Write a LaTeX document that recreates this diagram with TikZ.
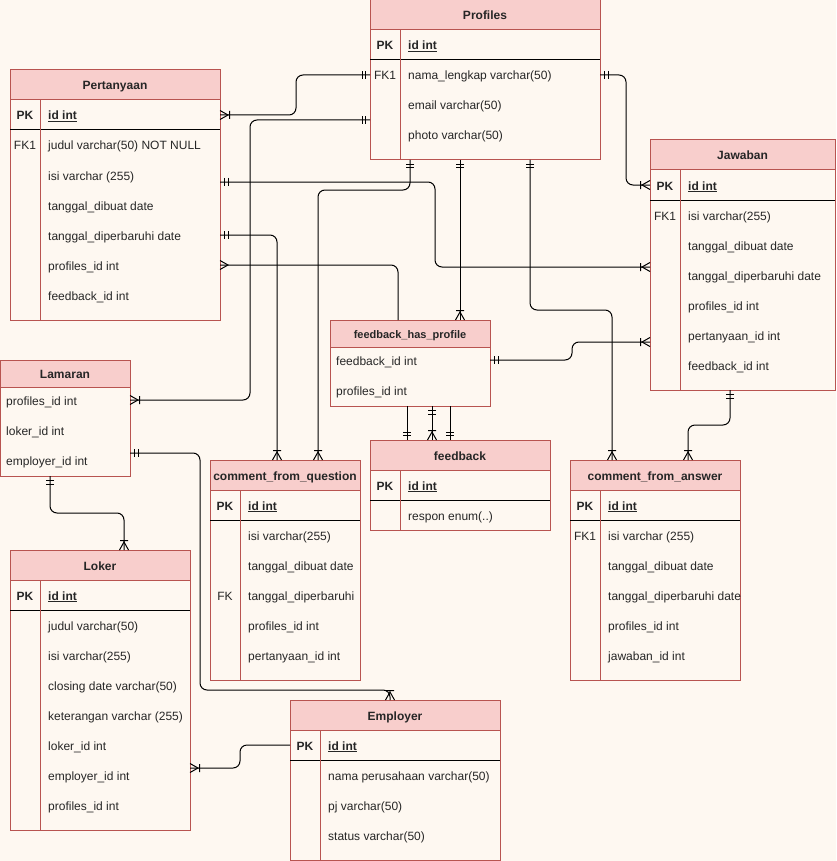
\documentclass[tikz,border=0pt]{standalone}
\usepackage{fontspec}
\setmainfont{Liberation Sans}
\usetikzlibrary{calc}

\definecolor{bgc}{HTML}{FEF8F1}
\definecolor{erhead}{HTML}{F8CECC}
\definecolor{erline}{HTML}{B85450}
\definecolor{ertext}{HTML}{262626}

\tikzset{
  tbl/.style={draw=erline, fill=bgc, line width=1pt, anchor=north west, inner sep=0pt, outer sep=0pt},
  hdr/.style={draw=erline, fill=erhead, line width=1pt, anchor=north west, inner sep=0pt, outer sep=0pt,
    text height=13pt, text depth=3pt, font=\fontsize{12}{14}\selectfont\bfseries, text=ertext},
  fldcell/.style={anchor=west, inner sep=0pt, text height=13pt, text depth=3pt,
    font=\fontsize{12}{14}\selectfont, text=ertext},
  pkfld/.style={fldcell, font=\fontsize{12}{14}\selectfont\bfseries},
  keycell/.style={fldcell, anchor=center},
  pkcell/.style={pkfld, anchor=center},
  divln/.style={draw=erline, line width=1pt},
  sepln/.style={draw=black, line width=1pt},
  conn/.style={draw=black, line width=1pt, rounded corners=7pt},
  tipln/.style={draw=black, line width=1pt},
  % relationship ends: origin on the entity border, +x pointing along the connector
  ertone/.pic={\draw[tipln] (4.5,-4) -- (4.5,4) (8,-4) -- (8,4);},
  ermany/.pic={\draw[tipln] (0,-4.5) -- (8,0) -- (0,4.5);},
  eronemany/.pic={\draw[tipln] (0,-4.5) -- (8,0) -- (0,4.5) (9.5,-4) -- (9.5,4);},
}

% table frame with title bar
\newcommand\ertbl[7]{%
  \node[tbl, minimum width=#4pt, minimum height=#5pt] (#1) at (#2,#3) {};
  \node[hdr, minimum width=#4pt, minimum height=#6pt] (#1-h) at (#2,#3) {#7};}
% line under the primary key row
\newcommand\ersep[2]{\draw[sepln] ($(#1.north west)+(0,#2)$) -- ($(#1.north east)+(0,#2)$);}
% key column divider
\newcommand\erdiv[2]{\draw[divln] ($(#1-h.south west)+(#2,0)$) -- ($(#1.south west)+(#2,0)$);}

\begin{document}
\begin{tikzpicture}[x=1pt, y=-1pt]
\fill[bgc] (0,0) rectangle (836,861);
\useasboundingbox (0,0) rectangle (836,861);

% ---------- Profiles ----------
\ertbl{profiles}{370}{0}{230}{160}{30}{Profiles}
\ersep{profiles}{60}
\erdiv{profiles}{30}
\node[pkcell] at (385,45) {PK};
\node[pkfld] (pr-id) at (408,45) {\underline{id int}};
\node[keycell] at (385,75) {FK1};
\node[fldcell] (pr-nama) at (408,75) {nama\_lengkap varchar(50)};
\node[fldcell] (pr-email) at (408,105) {email varchar(50)};
\node[fldcell] (pr-photo) at (408,135) {photo varchar(50)};

% ---------- Pertanyaan ----------
\ertbl{pertanyaan}{10}{70}{210}{250}{30}{Pertanyaan}
\ersep{pertanyaan}{60}
\erdiv{pertanyaan}{30}
\node[pkcell] (pe-pk) at (25,115) {PK};
\node[pkfld] at (48,115) {\underline{id int}};
\node[keycell] at (25,145) {FK1};
\node[fldcell] at (48,145) {judul varchar(50) NOT NULL};
\node[fldcell] (pe-isi) at (48,175) {isi varchar (255)};
\node[fldcell] at (48,205) {tanggal\_dibuat date};
\node[fldcell] (pe-tdp) at (48,235) {tanggal\_diperbaruhi date};
\node[fldcell] (pe-prof) at (48,265) {profiles\_id int};
\node[fldcell] at (48,295) {feedback\_id int};

% ---------- Jawaban ----------
\ertbl{jawaban}{650}{140}{185}{250}{30}{Jawaban}
\ersep{jawaban}{60}
\erdiv{jawaban}{30}
\node[pkcell] (ja-pk) at (665,185) {PK};
\node[pkfld] at (688,185) {\underline{id int}};
\node[keycell] at (665,215) {FK1};
\node[fldcell] at (688,215) {isi varchar(255)};
\node[fldcell] at (688,245) {tanggal\_dibuat date};
\node[fldcell] at (688,275) {tanggal\_diperbaruhi date};
\node[fldcell] at (688,305) {profiles\_id int};
\node[fldcell] at (688,335) {pertanyaan\_id int};
\node[fldcell] at (688,365) {feedback\_id int};

% ---------- Lamaran ----------
\ertbl{lamaran}{0}{360}{130}{116}{27}{Lamaran}
\node[fldcell] (la-prof) at (6,400) {profiles\_id int};
\node[fldcell] at (6,430) {loker\_id int};
\node[fldcell] (la-emp) at (6,460) {employer\_id int};

% ---------- feedback_has_profile ----------
\node[tbl, minimum width=160pt, minimum height=86pt] (fhp) at (330,320) {};
\node[hdr, minimum width=160pt, minimum height=27pt, text height=12pt, font=\fontsize{11}{13}\selectfont\bfseries] (fhp-h) at (330,320) {feedback\_has\_profile};
\node[fldcell] (fh-fb) at (336,360) {feedback\_id int};
\node[fldcell] (fh-prof) at (336,390) {profiles\_id int};

% ---------- feedback ----------
\ertbl{feedback}{370}{440}{180}{90}{30}{feedback}
\ersep{feedback}{60}
\erdiv{feedback}{30}
\node[pkcell] at (385,485) {PK};
\node[pkfld] at (408,485) {\underline{id int}};
\node[fldcell] at (408,515) {respon enum(..)};

% ---------- comment_from_question ----------
\ertbl{cfq}{210}{460}{150}{220}{30}{comment\_from\_question}
\ersep{cfq}{60}
\erdiv{cfq}{30}
\node[pkcell] at (225,505) {PK};
\node[pkfld] at (248,505) {\underline{id int}};
\node[fldcell] at (248,535) {isi varchar(255)};
\node[fldcell] at (248,565) {tanggal\_dibuat date};
\node[keycell] at (225,595) {FK};
\node[fldcell] at (248,595) {tanggal\_diperbaruhi};
\node[fldcell] at (248,625) {profiles\_id int};
\node[fldcell] at (248,655) {pertanyaan\_id int};

% ---------- comment_from_answer ----------
\ertbl{cfa}{570}{460}{170}{220}{30}{comment\_from\_answer}
\ersep{cfa}{60}
\erdiv{cfa}{30}
\node[pkcell] at (585,505) {PK};
\node[pkfld] at (608,505) {\underline{id int}};
\node[keycell] at (585,535) {FK1};
\node[fldcell] at (608,535) {isi varchar (255)};
\node[fldcell] at (608,565) {tanggal\_dibuat date};
\node[fldcell] at (608,595) {tanggal\_diperbaruhi date};
\node[fldcell] at (608,625) {profiles\_id int};
\node[fldcell] at (608,655) {jawaban\_id int};

% ---------- Loker ----------
\ertbl{loker}{10}{550}{180}{280}{30}{Loker}
\ersep{loker}{60}
\erdiv{loker}{30}
\node[pkcell] at (25,595) {PK};
\node[pkfld] at (48,595) {\underline{id int}};
\node[fldcell] at (48,625) {judul varchar(50)};
\node[fldcell] at (48,655) {isi varchar(255)};
\node[fldcell] at (48,685) {closing date varchar(50)};
\node[fldcell] at (48,715) {keterangan varchar (255)};
\node[fldcell] at (48,745) {loker\_id int};
\node[fldcell] at (48,775) {employer\_id int};
\node[fldcell] at (48,805) {profiles\_id int};

% ---------- Employer ----------
\ertbl{employer}{290}{700}{210}{160}{30}{Employer}
\ersep{employer}{60}
\erdiv{employer}{30}
\node[pkcell] (em-pk) at (305,745) {PK};
\node[pkfld] at (328,745) {\underline{id int}};
\node[fldcell] at (328,775) {nama perusahaan varchar(50)};
\node[fldcell] at (328,805) {pj varchar(50)};
\node[fldcell] at (328,835) {status varchar(50)};

% ---------- relationships ----------
% Pertanyaan -- Profiles
\draw[conn] (pertanyaan.east |- pe-pk) coordinate (r1a) -- ++(76,0) |- (profiles.west |- pr-nama) coordinate (r1b);
\pic[rotate=0] at (r1a) {eronemany};
\pic[rotate=180] at (r1b) {ertone};

% Profiles -- Lamaran
\draw[conn] ($(profiles.west)+(0,40)$) coordinate (r2a) -- ++(-120,0) |- (lamaran.east |- la-prof) coordinate (r2b);
\pic[rotate=180] at (r2a) {ertone};
\pic[rotate=0] at (r2b) {eronemany};

% Profiles -- Jawaban
\draw[conn] (profiles.east |- pr-nama) coordinate (r3a) -- ++(26,0) |- (jawaban.west |- ja-pk) coordinate (r3b);
\pic[rotate=0] at (r3a) {ertone};
\pic[rotate=180] at (r3b) {eronemany};

% Pertanyaan -- Jawaban
\draw[conn] ($(pertanyaan.east)+(0,-13)$) coordinate (r4a) -- ++(215,0) |- ($(jawaban.west)+(0,2)$) coordinate (r4b);
\pic[rotate=0] at (r4a) {ertone};
\pic[rotate=180] at (r4b) {eronemany};

% Profiles -- comment_from_question
\draw[conn] ($(profiles.south west)+(40,0)$) coordinate (r5a) -- ++(0,30) -| ($(cfq.north west)+(108,0)$) coordinate (r5b);
\pic[rotate=-90] at (r5a) {ertone};
\pic[rotate=90] at (r5b) {eronemany};

% Profiles -- feedback_has_profile
\draw[conn] ($(profiles.south west)+(90,0)$) coordinate (r6a) -- ($(fhp.north west)+(130,0)$) coordinate (r6b);
\pic[rotate=-90] at (r6a) {ertone};
\pic[rotate=90] at (r6b) {eronemany};

% Profiles -- comment_from_answer
\draw[conn] ($(profiles.south west)+(160,0)$) coordinate (r7a) -- ++(0,150) -| ($(cfa.north west)+(42,0)$) coordinate (r7b);
\pic[rotate=-90] at (r7a) {ertone};
\pic[rotate=90] at (r7b) {eronemany};

% Pertanyaan -- comment_from_question
\draw[conn] (pertanyaan.east |- pe-tdp) coordinate (r8a) -| ($(cfq.north west)+(67,0)$) coordinate (r8b);
\pic[rotate=0] at (r8a) {ertone};
\pic[rotate=90] at (r8b) {eronemany};

% Pertanyaan -- feedback_has_profile
\draw[conn] (pertanyaan.east |- pe-prof) coordinate (r9a) -| ($(fhp.north west)+(68,0)$) coordinate (r9b);
\pic[rotate=0] at (r9a) {ermany};

% feedback_has_profile -- Jawaban
\draw[conn] (fhp.east |- fh-fb) coordinate (r10a) -- ++(82,0) |- ($(jawaban.west)+(0,77)$) coordinate (r10b);
\pic[rotate=0] at (r10a) {ertone};
\pic[rotate=180] at (r10b) {eronemany};

% feedback_has_profile -- feedback
\draw[conn] ($(fhp.south west)+(77,0)$) coordinate (r11a) -- ($(feedback.north west)+(37,0)$) coordinate (r11b);
\pic[rotate=90] at (r11b) {ertone};
\draw[conn] ($(fhp.south west)+(102,0)$) coordinate (r12a) -- ($(feedback.north west)+(62,0)$) coordinate (r12b);
\pic[rotate=-90] at (r12a) {ertone};
\pic[rotate=90] at (r12b) {eronemany};
\draw[conn] ($(fhp.south west)+(120,0)$) coordinate (r13a) -- ($(feedback.north west)+(80,0)$) coordinate (r13b);
\pic[rotate=90] at (r13b) {ertone};

% Jawaban -- comment_from_answer
\draw[conn] ($(jawaban.south west)+(80,0)$) coordinate (r14a) -- ++(0,35) -| ($(cfa.north west)+(118,0)$) coordinate (r14b);
\pic[rotate=-90] at (r14a) {ertone};
\pic[rotate=90] at (r14b) {eronemany};

% Lamaran -- Employer
\draw[conn] ($(lamaran.east)+(0,35)$) coordinate (r15a) -| ($(employer.north west)+(-90,-10)$) -| ($(employer.north west)+(100,0)$) coordinate (r15b);
\pic[rotate=0] at (r15a) {ertone};
\pic[rotate=90] at (r15b) {eronemany};

% Lamaran -- Loker
\draw[conn] ($(lamaran.south west)+(50,0)$) coordinate (r16a) -- ++(0,37) -| ($(loker.north west)+(114,0)$) coordinate (r16b);
\pic[rotate=-90] at (r16a) {ertone};
\pic[rotate=90] at (r16b) {eronemany};

% Employer -- Loker
\draw[conn] (employer.west |- em-pk) coordinate (r17a) -- ++(-50,0) |- ($(loker.east)+(0,78)$) coordinate (r17b);
\pic[rotate=0] at (r17b) {eronemany};

\end{tikzpicture}
\end{document}
